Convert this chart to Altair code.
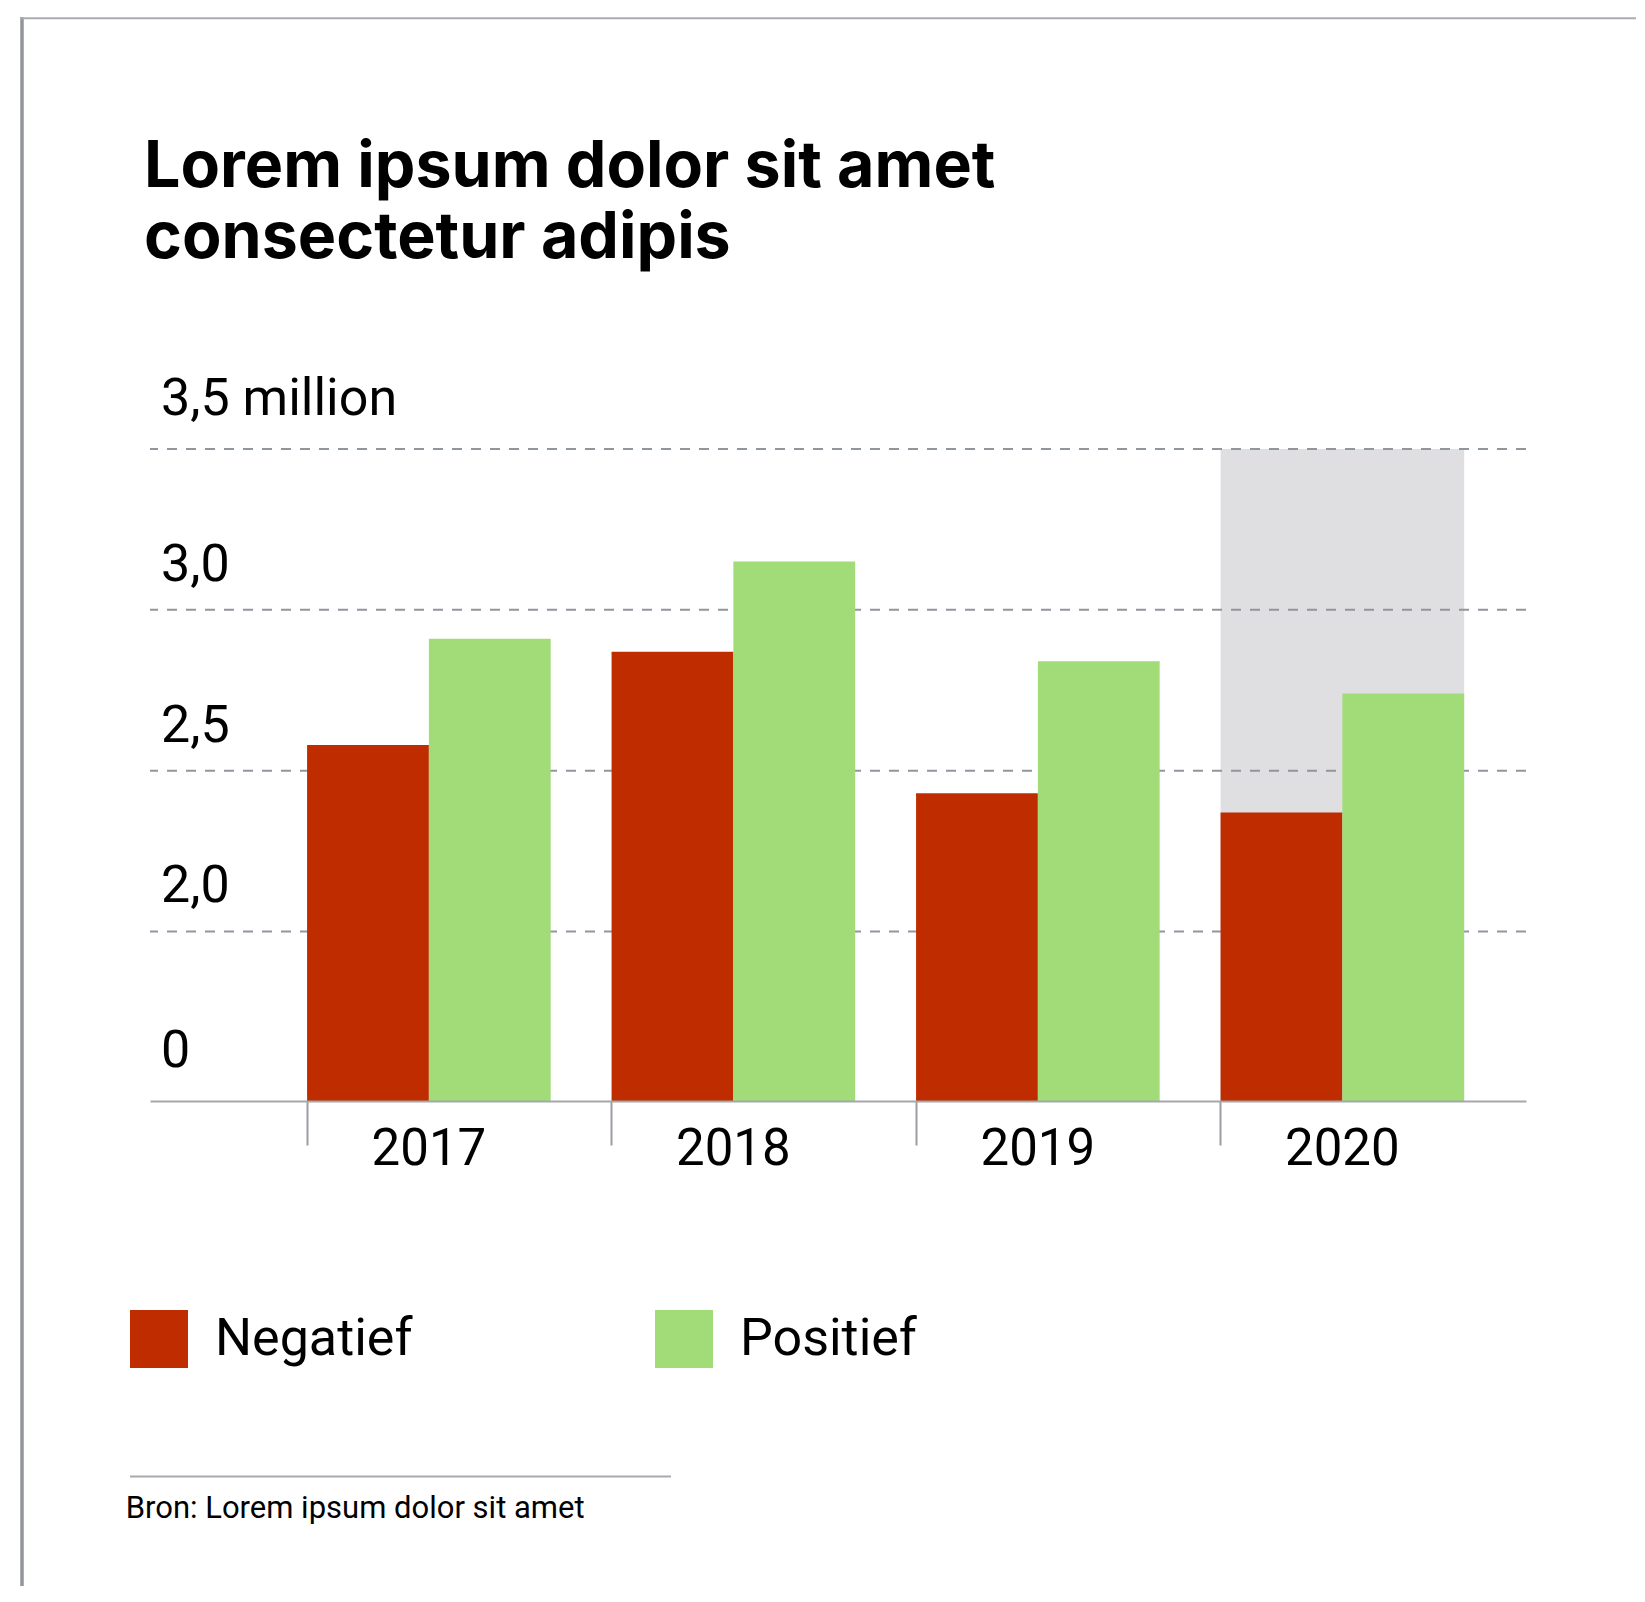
import altair as alt
import pandas as pd

# ---------------- data ----------------
YEARS = ["2017", "2018", "2019", "2020"]
SERIES = ["Negatief", "Positief"]
NEGATIEF = [2.58, 2.87, 2.43, 2.37]      # million
POSITIEF = [2.91, 3.15, 2.84, 2.74]      # million
HIGHLIGHT_YEARS = ["2020"]
HIGHLIGHT_TOP = [3.5]
GRID_VALUES = [2.0, 2.5, 3.0, 3.5]
AXIS_BREAK = 1.473                        # axis is cut: this level is drawn as "0"
Y_TICKS = [AXIS_BREAK, 2.0, 2.5, 3.0, 3.5]
TITLE_LINES = ["Lorem ipsum dolor sit amet", "consectetur adipis"]
SOURCE = ["Bron: Lorem ipsum dolor sit amet"]
COLORS = ["#bf2c00", "#a1dc78"]

bars_df = pd.DataFrame({
    "year": YEARS * 2,
    "series": [SERIES[0]] * len(YEARS) + [SERIES[1]] * len(YEARS),
    "value": NEGATIEF + POSITIEF,
})
hl_df = pd.DataFrame({"year": HIGHLIGHT_YEARS, "value": HIGHLIGHT_TOP})
grid_df = pd.DataFrame({"value": GRID_VALUES})
one = pd.DataFrame({"k": [0]})
src_df = pd.DataFrame({"t": SOURCE})

W, H = 1376, 652
xs = alt.Scale(domain=YEARS, paddingInner=0.2, paddingOuter=0.3595, align=0.7175)
ys = alt.Scale(domain=[AXIS_BREAK, 3.5], nice=False, zero=False)

label_expr = ("datum.value < 1.9 ? '0' : (datum.value > 3.4 ? '3,5 million' : "
              "replace(format(datum.value, '.1f'), '.', ','))")

X_AXIS = alt.Axis(
    title=None, bandPosition=0, ticks=True, tickSize=44,
    tickColor="#9a9da2", tickWidth=2, domainColor="#a4a7ab", domainWidth=2,
    labelFont="Roboto", labelFontSize=51, labelColor="#000000",
    labelBaseline="alphabetic", labelPadding=19.5, labelAngle=0, grid=False, zindex=1)

Y_AXIS = alt.Axis(
    title=None, values=Y_TICKS, labelExpr=label_expr, domain=False, ticks=False,
    tickSize=0, grid=False, labelAlign="left", labelBaseline="alphabetic",
    labelPadding=-10.5, labelFlush=False, labelOverlap=False, labelLimit=600,
    labelOffset={"condition": {"test": "datum.value < 1.9 || datum.value > 3.4", "value": -35},
                 "value": -29.5},
    labelFont="Roboto", labelFontSize=52, labelColor="#000000")

bg = alt.Chart(hl_df).mark_bar(color="#dfdfe1").encode(
    x=alt.X("year:N", scale=xs, axis=X_AXIS),
    y=alt.Y("value:Q", scale=ys, axis=Y_AXIS),
    y2=alt.datum(AXIS_BREAK),
)

grid = alt.Chart(grid_df).mark_rule(color="#8f969d", strokeWidth=2, strokeDash=[10, 9]).encode(
    y=alt.Y("value:Q", scale=ys, axis=Y_AXIS),
)

bars = alt.Chart(bars_df).mark_bar().encode(
    x=alt.X("year:N", scale=xs, axis=X_AXIS),
    xOffset=alt.XOffset("series:N", sort=SERIES, scale=alt.Scale(paddingInner=0, paddingOuter=0)),
    y=alt.Y("value:Q", scale=ys, axis=Y_AXIS),
    y2=alt.datum(AXIS_BREAK),
    color=alt.Color("series:N", scale=alt.Scale(domain=SERIES, range=COLORS), legend=alt.Legend(
        title=None, orient="none", legendX=-20, legendY=861, direction="horizontal",
        symbolType="square", symbolSize=3364, symbolStrokeWidth=0, symbolOpacity=1,
        labelFont="Roboto", labelFontSize=52, labelColor="#000000", labelOffset=27,
        columnPadding=242, padding=0, labelLimit=500)),
)

title = alt.Chart(one).mark_text(
    align="left", baseline="alphabetic", font="Inter", fontSize=64.5, fontWeight="bold",
    color="#000000", lineHeight=71,
).encode(x=alt.value(-6), y=alt.value(-262.3), text=alt.value(TITLE_LINES))

left_line = alt.Chart(one).mark_rule(color="#92959c", strokeWidth=3.5).encode(
    x=alt.value(-128), y=alt.value(-432), y2=alt.value(1300))
top_line = alt.Chart(one).mark_rule(color="#a9acb2", strokeWidth=2).encode(
    x=alt.value(-130), x2=alt.value(1600), y=alt.value(-430.7))
footer_rule = alt.Chart(one).mark_rule(color="#a8aaaf", strokeWidth=2).encode(
    x=alt.value(-20), x2=alt.value(521), y=alt.value(1027.5))
footer_text = alt.Chart(src_df).mark_text(
    align="left", baseline="alphabetic", font="Roboto", fontSize=31, color="#000000",
).encode(text="t:N", x=alt.value(-24.3), y=alt.value(1069))

chart = alt.layer(bg, grid, bars, title, left_line, top_line, footer_rule, footer_text).properties(
    width=W, height=H,
    padding={"left": 142, "top": 441, "right": 110, "bottom": 485},
    autosize=alt.AutoSizeParams(type="none"),
    background="#ffffff",
).configure_view(stroke=None)

chart.save("out.html", embed_options={"renderer": "svg", "actions": False})
